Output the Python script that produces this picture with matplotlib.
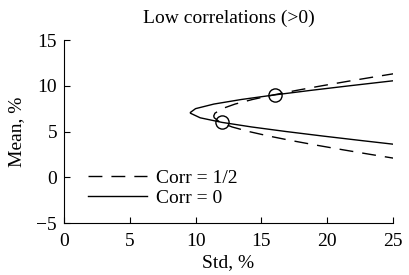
import matplotlib
matplotlib.use("Agg")
import matplotlib.pyplot as plt

plt.rcParams['font.family'] = ['Liberation Serif', 'DejaVu Serif']

# Corr = 0 frontier (std %, mean %)
solid_std = [25.11, 22.67, 19.70, 16.87, 14.25, 12.00, 10.35, 9.61, 9.60, 10.00, 11.39, 13.48, 16.00, 18.77, 21.71, 24.74, 25.36]
solid_mean = [3.6, 4.0, 4.5, 5.0, 5.5, 6.0, 6.5, 7.0, 7.08, 7.5, 8.0, 8.5, 9.0, 9.5, 10.0, 10.5, 10.6]

# Corr = 1/2 frontier (std %, mean %)
dash_std = [25.42, 23.28, 21.21, 19.21, 17.32, 15.58, 14.04, 12.77, 11.87, 11.42, 11.38, 11.47, 12.02, 13.00, 14.32, 15.92, 17.69, 19.60, 21.62, 23.71, 25.42]
dash_mean = [2.0, 2.5, 3.0, 3.5, 4.0, 4.5, 5.0, 5.5, 6.0, 6.5, 6.7, 7.0, 7.5, 8.0, 8.5, 9.0, 9.5, 10.0, 10.5, 11.0, 11.4]

# assets
asset_std = [12, 16]
asset_mean = [6, 9]

xticks = [0, 5, 10, 15, 20, 25]
yticks = [-5, 0, 5, 10, 15]

FS = 14

fig = plt.figure(figsize=(4.1, 2.75), dpi=100)
ax = fig.add_axes([0.156, 0.189, 0.8025, 0.6655])

ax.plot(dash_std, dash_mean, color='black', lw=1.0, linestyle=(0, (10, 6.5)), label='Corr = 1/2')
ax.plot(solid_std, solid_mean, color='black', lw=1.0, label='Corr = 0')
ax.plot(asset_std, asset_mean, linestyle='none', marker='o', markersize=9.5,
        markerfacecolor='none', markeredgecolor='black', markeredgewidth=1.0)

ax.set_xlim(0, 25)
ax.set_ylim(-5, 15)
ax.set_xticks(xticks)
ax.set_yticks(yticks)
ax.set_yticklabels(['\u22125', '0', '5', '10', '15'])
for s in ['top', 'right']:
    ax.spines[s].set_visible(False)
ax.tick_params(direction='in', length=4, labelsize=FS, width=0.8)
ax.tick_params(axis='x', pad=7)
ax.tick_params(axis='y', pad=5)
ax.set_xlabel('Std, %', fontsize=FS, labelpad=3)
ax.set_ylabel('Mean, %', fontsize=FS, labelpad=8)
ax.set_title('Low correlations (>0)', fontsize=FS, pad=12)
ax.legend(loc='lower left', frameon=False, fontsize=FS, handlelength=3.0,
          handletextpad=0.5, labelspacing=0.1, borderaxespad=0.0,
          bbox_to_anchor=(0.05, 0.047))

fig.savefig('out.png', dpi=100)
